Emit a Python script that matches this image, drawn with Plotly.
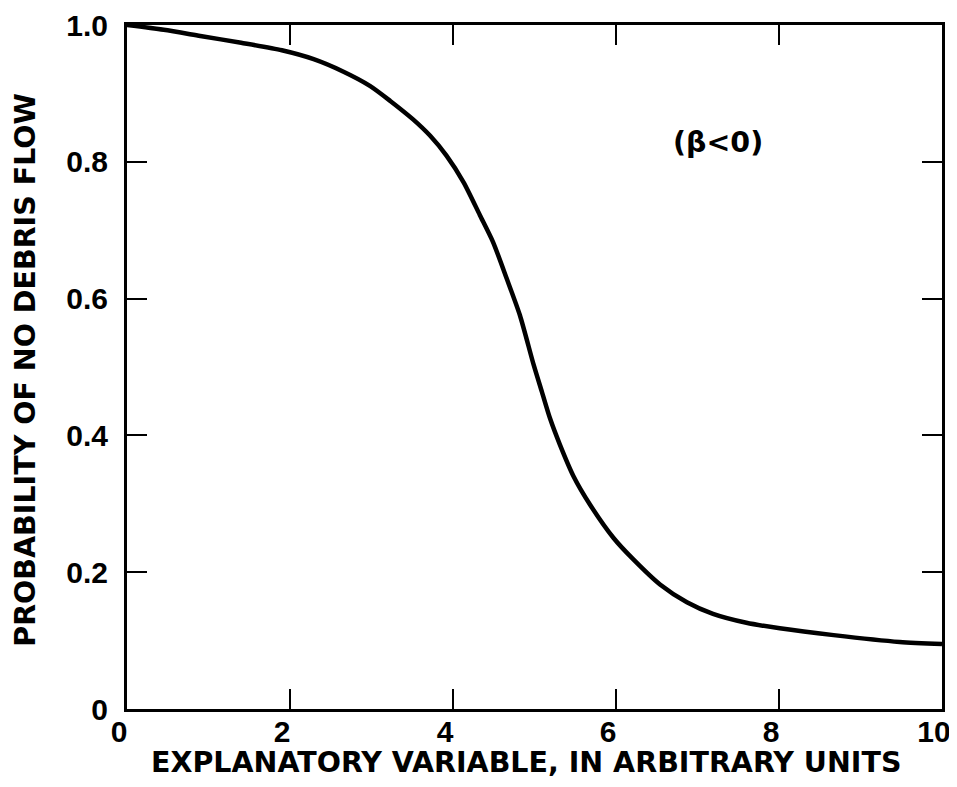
import plotly.graph_objects as go

x_vals = [0, 0.45, 0.90, 1.40, 1.90, 2.29, 2.65, 2.98, 3.23, 3.51, 3.72, 3.92, 4.13, 4.33,
          4.49, 4.66, 4.82, 4.99, 5.09, 5.19, 5.31, 5.48, 5.68, 5.97, 6.21, 6.54, 6.87,
          7.19, 7.60, 8.01, 8.67, 9.48, 10.0]
y_vals = [1.0, 0.993, 0.984, 0.974, 0.963, 0.950, 0.932, 0.911, 0.889, 0.862, 0.838, 0.809,
          0.770, 0.722, 0.683, 0.629, 0.576, 0.503, 0.464, 0.425, 0.387, 0.340, 0.299, 0.250,
          0.219, 0.182, 0.156, 0.139, 0.126, 0.118, 0.108, 0.098, 0.095]

x_ticks = [0, 2, 4, 6, 8, 10]
x_tick_labels = ["0", "2", "4", "6", "8", "10"]
y_ticks = [0, 0.2, 0.4, 0.6, 0.8, 1.0]
y_tick_labels = ["0", "0.2", "0.4", "0.6", "0.8", "1.0"]

x_title = "EXPLANATORY VARIABLE, IN ARBITRARY UNITS"
y_title = "PROBABILITY OF NO DEBRIS FLOW"
note = "(β<0)"

TICK_FONT = "Liberation Sans, Arial, sans-serif"
TITLE_FONT = "DejaVu Sans, Verdana, sans-serif"

fig = go.Figure()
fig.add_trace(go.Scatter(
    x=x_vals, y=y_vals, mode="lines",
    line=dict(color="black", width=4.5, shape="spline", smoothing=0.7),
    showlegend=False, hoverinfo="skip", cliponaxis=False,
))

axis_common = dict(
    showgrid=False, zeroline=False, showline=True, linecolor="black", linewidth=3,
    mirror="ticks", ticks="inside", ticklen=20, tickwidth=2, tickcolor="black",
    ticklabeloverflow="allow",
    tickfont=dict(family=TICK_FONT, size=30, color="black", weight="bold"),
)

fig.update_xaxes(range=[0, 10], tickvals=x_ticks, ticktext=x_tick_labels,
                 ticklabelstandoff=-6, ticklabelshift=-8, **axis_common)
fig.update_yaxes(range=[0, 1.0], tickvals=y_ticks, ticktext=y_tick_labels,
                 ticklabelstandoff=10, **axis_common)

title_font = dict(family=TITLE_FONT, size=28.5, color="black", weight="bold")
fig.add_annotation(x=0.49, y=0, xref="paper", yref="paper", text=x_title,
                   showarrow=False, xanchor="center", yanchor="middle", yshift=-53,
                   font=title_font)
fig.add_annotation(x=0, y=0.496, xref="paper", yref="paper", text=y_title,
                   showarrow=False, xanchor="center", yanchor="middle", xshift=-101,
                   textangle=-90, font=title_font)
fig.add_annotation(x=7.25, y=0.828, xref="x", yref="y", text=note, showarrow=False,
                   font=title_font)

fig.update_layout(
    width=949, height=779,
    margin=dict(l=119, r=15, t=17, b=78, autoexpand=False),
    paper_bgcolor="white", plot_bgcolor="white",
)

fig.write_html("out.html")
